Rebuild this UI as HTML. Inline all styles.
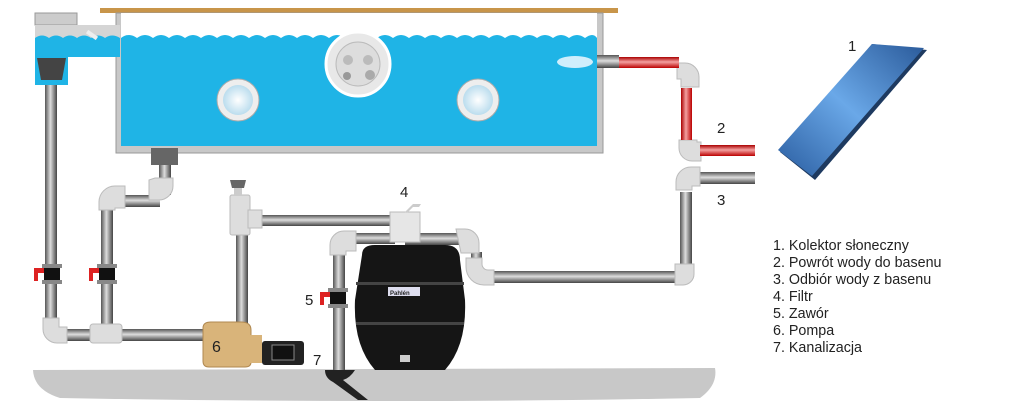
<!DOCTYPE html>
<html><head><meta charset="utf-8"><style>
body{margin:0;background:#fff;width:1024px;height:420px;overflow:hidden}
svg{display:block}
text{font-family:"Liberation Sans",sans-serif;fill:#222}
</style></head><body>
<svg width="1024" height="420" viewBox="0 0 1024 420">
<defs>
<linearGradient id="pv" x1="0" x2="1" y1="0" y2="0"><stop offset="0" stop-color="#555"/><stop offset=".45" stop-color="#ddd"/><stop offset="1" stop-color="#444"/></linearGradient>
<linearGradient id="ph" x1="0" x2="0" y1="0" y2="1"><stop offset="0" stop-color="#555"/><stop offset=".45" stop-color="#ddd"/><stop offset="1" stop-color="#444"/></linearGradient>
<linearGradient id="rv" x1="0" x2="1"><stop offset="0" stop-color="#a00"/><stop offset=".45" stop-color="#f4a0a0"/><stop offset="1" stop-color="#b00"/></linearGradient>
<linearGradient id="rh" x1="0" x2="0" y1="0" y2="1"><stop offset="0" stop-color="#a00"/><stop offset=".45" stop-color="#f4a0a0"/><stop offset="1" stop-color="#b00"/></linearGradient>
<linearGradient id="sol" x1="0" y1="1" x2="1" y2="0"><stop offset="0" stop-color="#2a5da0"/><stop offset=".5" stop-color="#6aa8e8"/><stop offset="1" stop-color="#2a5a9a"/></linearGradient>
<radialGradient id="lamp"><stop offset="0" stop-color="#fff"/><stop offset="1" stop-color="#bde"/></radialGradient>
</defs>
<path d="M33 370 L715 368 Q718 385 700 398 Q400 404 60 398 Q34 390 33 370Z" fill="#c8c8c8"/>
<rect x="100" y="8" width="518" height="5" fill="#c8954a"/>
<rect x="116" y="13" width="487" height="140" fill="#c8c8c8" stroke="#999"/>
<rect x="121" y="13" width="476" height="133" fill="#fff"/>
<path d="M121 38 q8 -6 16 0 q8 -6 16 0 q8 -6 16 0 q8 -6 16 0 q8 -6 16 0 q8 -6 16 0 q8 -6 16 0 q8 -6 16 0 q8 -6 16 0 q8 -6 16 0 q8 -6 16 0 q8 -6 16 0 q8 -6 16 0 q8 -6 16 0 q8 -6 16 0 q8 -6 16 0 q8 -6 16 0 q8 -6 16 0 q8 -6 16 0 q8 -6 16 0 q8 -6 16 0 q8 -6 16 0 q8 -6 16 0 q8 -6 16 0 q8 -6 16 0 q8 -6 16 0 q8 -6 16 0 q8 -6 16 0 q8 -6 16 0 q8 -6 12 0 L597 146 L121 146Z" fill="#1fb4e6"/>
<rect x="35" y="13" width="42" height="12" fill="#ccc" stroke="#999"/>
<rect x="35" y="25" width="85" height="15" fill="#d5d5d5"/>
<path d="M35 38 q7 -5 14 0 q7 -5 14 0 q7 -5 14 0 q7 -5 14 0 q7 -5 14 0 q7 -5 15 0 L120 57 L35 57Z" fill="#1fb4e6"/>
<rect x="35" y="57" width="33" height="28" fill="#1fb4e6"/>
<path d="M37 58 L66 58 L62 80 L41 80Z" fill="#444"/>
<rect x="86" y="33" width="12" height="4" fill="#eee" transform="rotate(35 92 35)"/>
<circle cx="238" cy="100" r="21" fill="#eee" stroke="#aaa"/><circle cx="238" cy="100" r="15" fill="url(#lamp)"/>
<circle cx="478" cy="100" r="21" fill="#eee" stroke="#aaa"/><circle cx="478" cy="100" r="15" fill="url(#lamp)"/>
<circle cx="358" cy="64" r="32" fill="#e8e8e8" stroke="#fff" stroke-width="3"/><circle cx="358" cy="64" r="22" fill="#ddd" stroke="#bbb"/>
<circle cx="348" cy="60" r="5" fill="#bbb"/><circle cx="368" cy="60" r="5" fill="#bbb"/><circle cx="347" cy="76" r="4" fill="#999"/><circle cx="370" cy="75" r="5" fill="#aaa"/>
<ellipse cx="575" cy="62" rx="18" ry="6" fill="#cfeefc"/>
<rect x="597" y="55" width="22" height="13" fill="url(#ph)"/>
<rect x="151" y="148" width="27" height="17" fill="#666"/>
<g>
<rect x="45" y="85" width="12" height="245" fill="url(#pv)"/>
<rect x="60" y="329" width="145" height="12" fill="url(#ph)"/>
<rect x="159" y="165" width="12" height="30" fill="url(#pv)"/>
<rect x="110" y="195" width="50" height="12" fill="url(#ph)"/>
<rect x="101" y="205" width="12" height="120" fill="url(#pv)"/>
<rect x="236" y="228" width="12" height="100" fill="url(#pv)"/>
<rect x="250" y="215" width="160" height="11" fill="url(#ph)"/>
<rect x="333" y="245" width="12" height="125" fill="url(#pv)"/>
<rect x="345" y="233" width="50" height="11" fill="url(#ph)"/>
<rect x="405" y="233" width="60" height="12" fill="url(#ph)"/>
<rect x="471" y="252" width="11" height="18" fill="url(#pv)"/>
<rect x="490" y="271" width="185" height="12" fill="url(#ph)"/>
<rect x="680" y="192" width="12" height="75" fill="url(#pv)"/>
<rect x="697" y="172" width="58" height="12" fill="url(#ph)"/>
</g>
<g fill="#ddd" stroke="#bbb">
<path d="M43 318 h16 v9 h8 v16 h-10 a14 14 0 0 1 -14 -14z"/>
<rect x="90" y="324" width="32" height="19" rx="3"/>
<path d="M99 210 v-8 a16 16 0 0 1 16 -16 h10 v22 h-10 v2z"/>
<path d="M155 178 h18 v8 a14 14 0 0 1 -14 14 h-10 v-20z"/>
<rect x="230" y="195" width="20" height="40" rx="2"/>
<rect x="248" y="210" width="14" height="18"/>
<path d="M330 255 v-10 a14 14 0 0 1 14 -14 h12 v20 h-10 v4z"/>
<path d="M456 229 h9 a14 14 0 0 1 14 14 v10 h-18z"/>
<path d="M466 258 h16 v6 a6 6 0 0 0 6 6 h6 v15 h-10 a18 18 0 0 1 -18 -18z"/>
<path d="M675 285 h8 a11 11 0 0 0 11 -11 v-10 h-19z"/>
<path d="M676 190 v-8 a15 15 0 0 1 15 -15 h9 v19 h-8 v4z"/>
<path d="M677 63 h8 a14 14 0 0 1 14 14 v10 h-18 v-8 h-4z"/>
<path d="M679 140 v8 a13 13 0 0 0 13 13 h9 v-19 h-4 v-2z"/>
<rect x="390" y="212" width="30" height="30" fill="#e6e6e6"/>
</g>
<path d="M405 212 l8 -8 h8 l-2 3 h-6 l-6 6z" fill="#ccc"/>
<rect x="619" y="57" width="60" height="11" fill="url(#rh)"/>
<rect x="681" y="88" width="11" height="52" fill="url(#rv)"/>
<rect x="700" y="145" width="55" height="11" fill="url(#rh)"/>
<g>
<rect x="42" y="264" width="20" height="4" fill="#888"/><rect x="42" y="280" width="20" height="4" fill="#888"/><rect x="44" y="268" width="16" height="12" fill="#111"/><path d="M34 268 h10 v5 h-6 v8 h-4z" fill="#d22"/>
<rect x="97" y="264" width="20" height="4" fill="#888"/><rect x="97" y="280" width="20" height="4" fill="#888"/><rect x="99" y="268" width="16" height="12" fill="#111"/><path d="M89 268 h10 v5 h-6 v8 h-4z" fill="#d22"/>
<rect x="328" y="288" width="20" height="4" fill="#888"/><rect x="328" y="304" width="20" height="4" fill="#888"/><rect x="330" y="292" width="16" height="12" fill="#111"/><path d="M320 292 h10 v5 h-6 v8 h-4z" fill="#d22"/>
</g>
<path d="M230 180 h16 l-2 8 h-12z" fill="#666"/><rect x="234" y="188" width="8" height="8" fill="#ccc"/>
<path d="M362 255 Q362 245 375 245 L445 245 Q460 245 460 260 L465 300 Q467 345 445 370 L375 370 Q353 345 355 300Z" fill="#151515"/>
<rect x="356" y="282" width="108" height="3" fill="#444"/><rect x="356" y="322" width="108" height="3" fill="#444"/>
<rect x="388" y="287" width="32" height="9" fill="#dde"/><text x="390" y="295" font-size="6" font-weight="bold" fill="#124">Pahlén</text>
<rect x="400" y="355" width="10" height="7" fill="#ccc"/>
<path d="M203 328 q0 -6 8 -6 h30 q10 0 10 8 v32 q0 5 -6 5 h-36 q-6 0 -6 -6z" fill="#d9b47a" stroke="#b08850"/>
<rect x="250" y="335" width="12" height="28" fill="#d9b47a"/>
<rect x="262" y="341" width="42" height="24" rx="3" fill="#222"/><rect x="272" y="345" width="22" height="15" fill="#111" stroke="#888"/>
<path d="M325 370 h30 q-5 8 -12 10 l25 20 h-10 l-25 -18 q-8 -4 -8 -12z" fill="#222"/>
<polygon points="780,152 872,44 927,50 815,180" fill="#1e3a60"/>
<polygon points="778,150 872,44 924,48 812,176" fill="url(#sol)"/>
<g font-size="15">
<text x="848" y="51">1</text><text x="717" y="133">2</text><text x="717" y="205">3</text>
<text x="400" y="197">4</text><text x="305" y="305">5</text><text x="212" y="352" font-size="16">6</text><text x="313" y="365">7</text>
</g>
<g font-size="14.3">
<text x="773" y="250">1. Kolektor słoneczny</text>
<text x="773" y="267">2. Powrót wody do basenu</text>
<text x="773" y="284">3. Odbiór wody z basenu</text>
<text x="773" y="301">4. Filtr</text>
<text x="773" y="318">5. Zawór</text>
<text x="773" y="335">6. Pompa</text>
<text x="773" y="352">7. Kanalizacja</text>
</g>
</svg>
</body></html>
